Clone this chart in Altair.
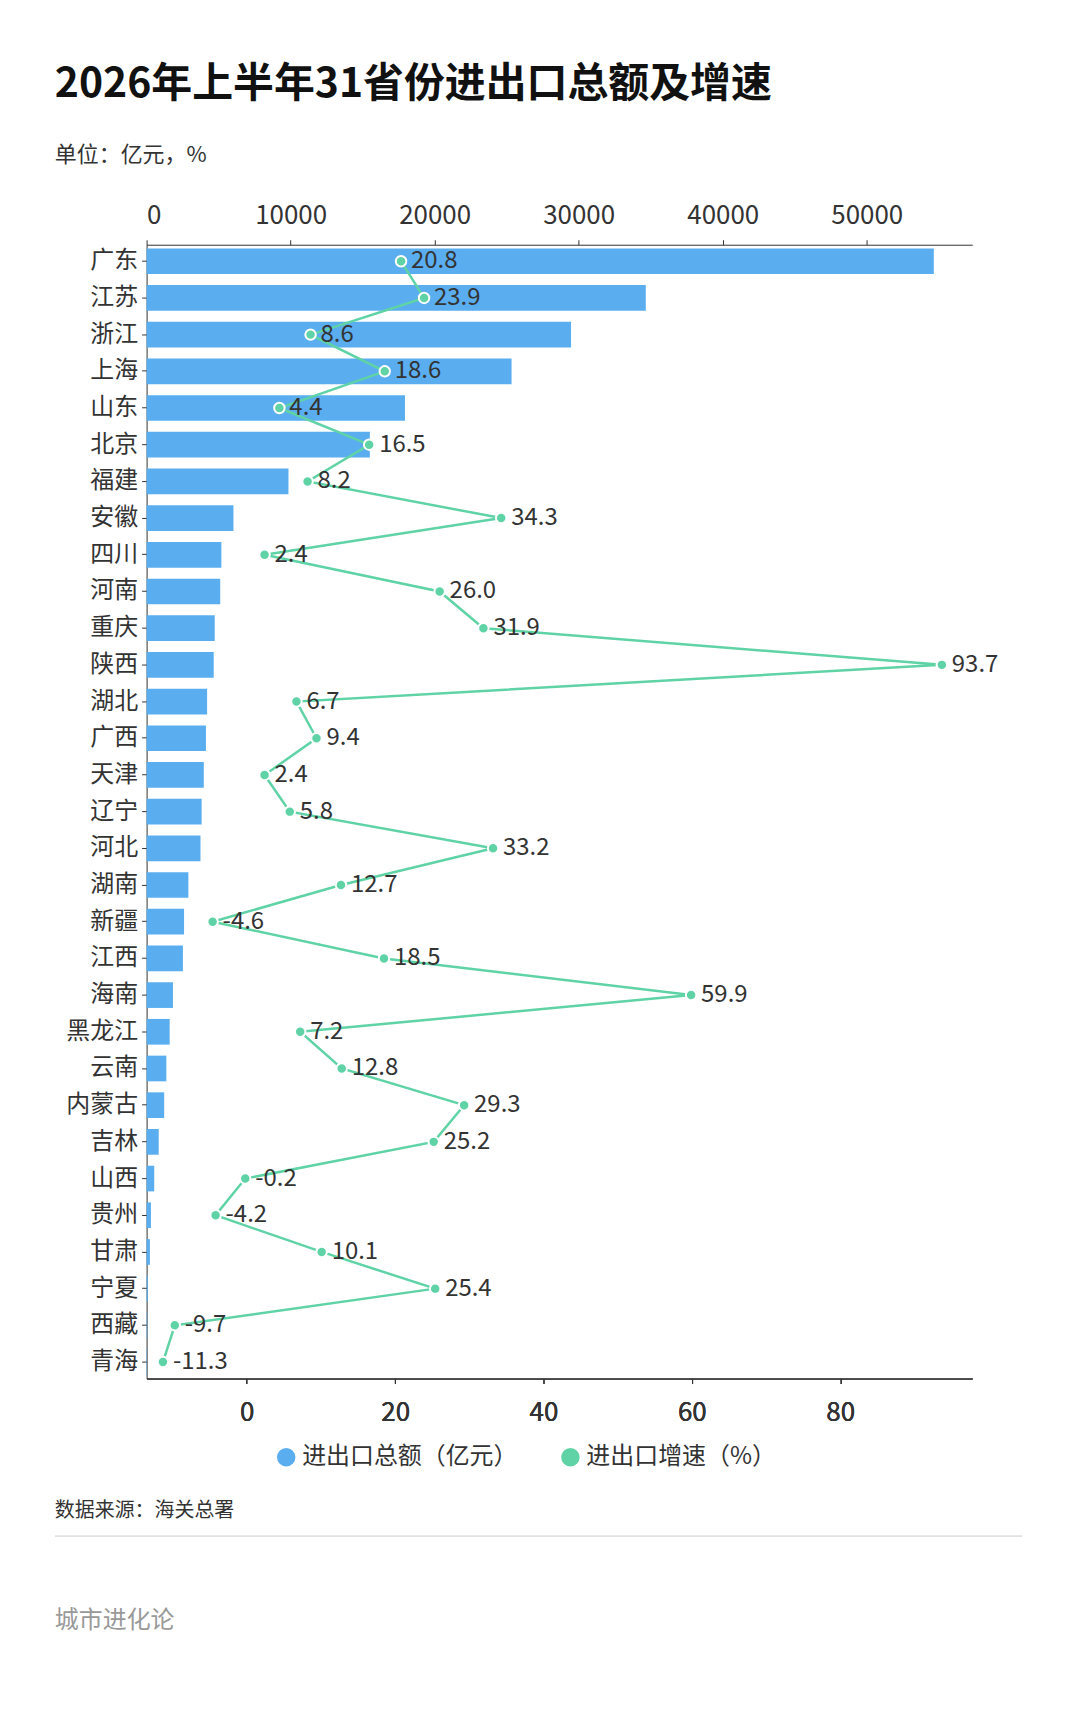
import altair as alt
import pandas as pd

provinces = ["广东","江苏","浙江","上海","山东","北京","福建","安徽","四川","河南","重庆","陕西","湖北","广西","天津","辽宁","河北","湖南","新疆","江西","海南","黑龙江","云南","内蒙古","吉林","山西","贵州","甘肃","宁夏","西藏","青海"]
totals = [54660,34660,29470,25340,17940,15500,9850,6030,5190,5110,4730,4660,4200,4120,3970,3820,3740,2900,2600,2520,1830,1600,1370,1220,840,530,300,230,80,40,30]
growth = [20.8,23.9,8.6,18.6,4.4,16.5,8.2,34.3,2.4,26.0,31.9,93.7,6.7,9.4,2.4,5.8,33.2,12.7,-4.6,18.5,59.9,7.2,12.8,29.3,25.2,-0.2,-4.2,10.1,25.4,-9.7,-11.3]

df = pd.DataFrame({"省份": provinces, "总额": totals, "增速": growth,
                   "order": list(range(len(provinces))),
                   "s1": "进出口总额（亿元）", "s2": "进出口增速（%）"})
df["label"] = df["增速"].map(lambda v: f"{v:.1f}")

FONT = "Noto Sans CJK SC"
BLUE = "#5aaef0"; GREEN = "#5fd3a5"
cscale = alt.Scale(domain=["进出口总额（亿元）","进出口增速（%）"], range=[BLUE, GREEN])
cleg = alt.Legend(title=None, orient="none", legendX=128, legendY=1204, direction="horizontal",
                  symbolType="circle", symbolSize=400, labelLimit=0,
                  labelFontSize=24, labelFont=FONT, labelColor="#333", columnPadding=40)
ysc = alt.Y("省份:N", sort=provinces, title=None,
            axis=alt.Axis(labelFontSize=24, labelFont=FONT, labelColor="#333", domain=True, domainColor="#333",
                          tickColor="#333", labelPadding=4),
            scale=alt.Scale(paddingInner=0.3, paddingOuter=0.1))

base = alt.Chart(df)
bars = base.mark_bar().encode(
    x=alt.X("总额:Q", scale=alt.Scale(domain=[0,57330], nice=False), title=None,
            axis=alt.Axis(orient="top", values=[0,10000,20000,30000,40000,50000], labelFontSize=26,
                          labelFont=FONT, labelColor="#333", domainColor="#333", tickColor="#333", grid=False,
                          format="d", labelPadding=11)),
    y=ysc, color=alt.Color("s1:N", scale=cscale, legend=cleg))

gx = alt.X("增速:Q", scale=alt.Scale(domain=[-13.5,97.8], nice=False), title=None,
           axis=alt.Axis(orient="bottom", values=[0,20,40,60,80], labelFontSize=26, labelFont=FONT,
                         labelColor="#333", domainColor="#333", tickColor="#333", grid=False, labelPadding=16))
line = base.mark_line(color=GREEN, strokeWidth=2.5).encode(x=gx, y=ysc, order="order:Q")
pts = base.mark_point(filled=True, size=110, stroke="white", strokeWidth=2, opacity=1).encode(
    x=gx, y=ysc, color=alt.Color("s2:N", scale=cscale, legend=cleg))
txt = base.mark_text(align="left", dx=10, fontSize=24, font=FONT, color="#333").encode(x=gx, y=ysc, text="label:N")

extra = pd.DataFrame({"t": ["数据来源：海关总署", "城市进化论"], "y": [1270, 1380], "c": ["#333", "#999"], "s": [20, 24]})
notes = alt.Chart(extra).mark_text(align="left", font=FONT).encode(
    x=alt.value(-92), y=alt.Y("y:Q", scale=None), text="t:N",
    color=alt.Color("c:N", scale=None), size=alt.Size("s:Q", scale=None))
rule = alt.Chart(pd.DataFrame({"a": [0]})).mark_rule(color="#ccc").encode(
    x=alt.value(-92), x2=alt.value(878), y=alt.value(1295))

chart = alt.layer(bars, line, pts, txt, notes, rule).resolve_scale(x="independent").properties(
    width=828, height=1137, background="white",
    title=alt.Title("2026年上半年31省份进出口总额及增速", subtitle="单位：亿元，%", anchor="start", frame="group",
                    font=FONT, fontSize=41, fontWeight="bold", color="#111", subtitleFont=FONT,
                    subtitleFontSize=22, subtitleColor="#333", subtitlePadding=39, offset=36, dx=-92),
    autosize=alt.AutoSizeParams(type="none"),
    padding={"left": 139, "top": 235, "right": 100, "bottom": 330}
).configure_view(stroke=None)

chart.save("out.html", embed_options={"renderer": "svg", "actions": False})
